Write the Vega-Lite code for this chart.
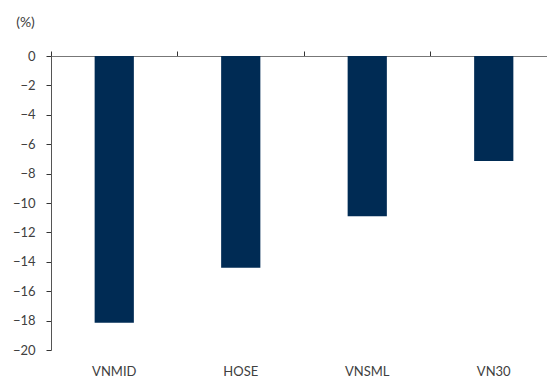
{
  "$schema": "https://vega.github.io/schema/vega-lite/v6.json",
  "width": 506,
  "height": 294,
  "autosize": {"type": "none"},
  "padding": {"left": 51, "top": 56, "right": 0, "bottom": 28},
  "config": {
    "view": {"stroke": null},
    "font": "Lato",
    "axis": {"labelFont": "Lato", "titleFont": "Lato", "labelColor": "#404040", "titleColor": "#404040", "labelFontSize": 13, "titleFontSize": 14, "grid": false}
  },
  "data": {"values": [
    {"index": "VNMID", "value": -18.15},
    {"index": "HOSE", "value": -14.4},
    {"index": "VNSML", "value": -10.9},
    {"index": "VN30", "value": -7.15}
  ]},
  "resolve": {"axis": {"x": "independent"}},
  "layer": [
    {
      "mark": {"type": "bar", "color": "#002b54"},
      "encoding": {
        "x": {"field": "index", "type": "nominal", "sort": null,
          "scale": {"paddingInner": 0.69, "paddingOuter": 0.345},
          "axis": {"orient": "bottom", "title": null, "domain": false, "ticks": false, "labelAngle": 0, "labelPadding": 15}},
        "y": {"field": "value", "type": "quantitative",
          "scale": {"domain": [-20, 0], "nice": false},
          "axis": {"values": [0, -2, -4, -6, -8, -10, -12, -14, -16, -18, -20], "labelOverlap": false, "labelSeparation": 0, "domainColor": "#555555", "tickColor": "#333333", "tickSize": 5, "labelPadding": 11,
            "title": "(%)", "titleAngle": 0, "titleAlign": "center", "titleBaseline": "middle", "titleX": -26, "titleY": -34, "titleFontWeight": "normal"}}
      }
    },
    {
      "mark": {"type": "bar", "opacity": 0},
      "encoding": {
        "x": {"field": "index", "type": "nominal", "sort": null,
          "axis": {"orient": "top", "title": null, "labels": false, "bandPosition": -1.1129, "domainColor": "#777777", "tickColor": "#333333", "tickSize": 5}},
        "y": {"field": "value", "type": "quantitative",
          "axis": {"values": [0, -2, -4, -6, -8, -10, -12, -14, -16, -18, -20], "labelOverlap": false, "labelSeparation": 0, "domainColor": "#555555", "tickColor": "#333333", "tickSize": 5, "labelPadding": 11,
            "title": "(%)", "titleAngle": 0, "titleAlign": "center", "titleBaseline": "middle", "titleX": -26, "titleY": -34, "titleFontWeight": "normal"}}
      }
    }
  ]
}
